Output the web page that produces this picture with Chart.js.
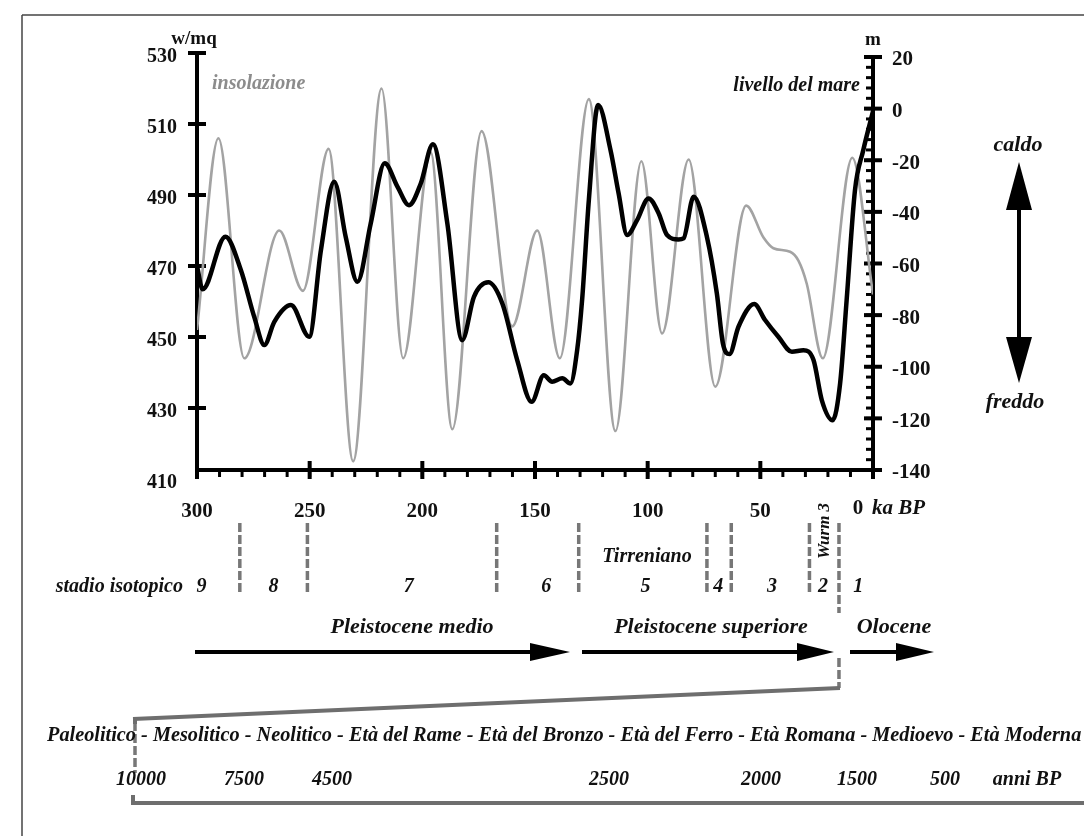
<!DOCTYPE html>
<html><head><meta charset="utf-8">
<script src="https://cdn.jsdelivr.net/npm/chart.js@4.4.1/dist/chart.umd.min.js"></script>
<style>html,body{margin:0;padding:0;background:#fff;} #wrap{width:1084px;height:836px;}</style>
</head><body><div id="wrap"><canvas id="c" width="1084" height="836"></canvas></div>
<script>
// ---------------- DATA ----------------
// insolation (W/m²), left axis, ka BP from 300 to 0
const insolKa   = [300, 290.5, 279, 263.5, 253, 241.6, 230.7, 218.1, 208.5, 196.3, 186.7, 173.7, 160.1, 149, 139, 126.1, 114.3, 102.8, 93.6, 81.8, 70, 56.3, 48.6, 44.2, 36.8, 33.1, 29.4, 22.3, 9.2, 0];
const insolWm2  = [452, 506, 444, 480, 463, 503, 415, 520, 444, 502, 424, 508, 453, 480, 444, 517, 423.5, 499.5, 451, 500, 436, 487, 478, 475, 474, 471.5, 465, 444, 500.5, 462];
// sea level (m), right axis
const seaKa     = [300, 297.5, 287.4, 280.5, 274.6, 270.1, 265.7, 258.3, 250.2, 245, 239.1, 234, 228.8, 222.9, 216.7, 211, 205.9, 200.7, 195.3, 188.9, 182.3, 177.1, 170.7, 164.5, 157.9, 151.5, 146.1, 142.4, 137.9, 134.3, 131.3, 129.1, 126.1, 122, 116.5, 112.9, 109.1, 104.7, 99.6, 95.1, 91.4, 86.3, 84.1, 79.6, 73.7, 69.3, 66.6, 63.7, 59.7, 52.7, 47.9, 42, 36, 30.9, 26.4, 22.7, 17.9, 14.6, 11.7, 8, 4.3, 0];
const seaLevelM = [-61, -70, -49.6, -62.6, -80.7, -91.6, -82.6, -76.1, -88.4, -54.8, -28.3, -49.7, -67.1, -44.5, -21.2, -30.3, -37.4, -29, -13.8, -44.5, -89.7, -72.9, -67.3, -75.5, -97.4, -113.6, -103.3, -105.8, -104.5, -106.5, -93.6, -74.2, -35.4, 1.4, -16, -32.8, -49, -43.2, -34.8, -40.6, -49, -50.7, -50.3, -34.1, -49.7, -71.6, -91, -95.1, -84.5, -75.7, -81.9, -88.4, -94.2, -93.6, -97.4, -113, -120.7, -106.5, -74.2, -31.6, -16, -1];
// tick labels
const kaTicks    = [300, 250, 200, 150, 100, 50, 0];
const insolTicks = [410, 430, 450, 470, 490, 510, 530];
const seaTicks   = [-140, -120, -100, -80, -60, -40, -20, 0, 20];
// isotope stages
const stageBoundsKa = [281, 251, 167, 130.6, 73.7, 62.9, 28.2, 15.1];
const stageLabels   = ['9', '8', '7', '6', '5', '4', '3', '2', '1'];
const stageLabelKa  = [298, 266, 206, 145, 101, 68.7, 44.8, 22.2, 6.6];
const epochLabels   = ['Pleistocene medio', 'Pleistocene superiore', 'Olocene'];
const culturalPeriods = 'Paleolitico - Mesolitico - Neolitico - Età del Rame - Età del Bronzo - Età del Ferro - Età Romana - Medioevo - Età Moderna';
const yearsBP = ['10000', '7500', '4500', '2500', '2000', '1500', '500', 'anni BP'];

// ---------------- LAYOUT ----------------
const SERIF = '"Liberation Serif", "Times New Roman", serif';
const yearsX = [141, 244, 332, 609, 761, 857, 945, 1027];
const epochTextX = [412, 711, 894];
const epochArrows = [[195, 570, 40], [582, 834, 37], [850, 934, 38]];

function pts(xs, ys){ return xs.map((k,i)=>({x:k, y:ys[i]})); }

function line(ctx,x1,y1,x2,y2){ ctx.beginPath(); ctx.moveTo(x1,y1); ctx.lineTo(x2,y2); ctx.stroke(); }
function txt(ctx,s,x,y,font,align,color){ ctx.font=font; ctx.textAlign=align||'center'; ctx.textBaseline='middle'; ctx.fillStyle=color||'#111'; ctx.fillText(s,x,y); }
function hArrow(ctx,x1,x2,y,head,hh){
  ctx.lineWidth=4; ctx.strokeStyle='#000'; line(ctx,x1,y,x2-head+2,y);
  ctx.fillStyle='#000'; ctx.beginPath(); ctx.moveTo(x2,y); ctx.lineTo(x2-head,y-hh); ctx.lineTo(x2-head,y+hh); ctx.closePath(); ctx.fill();
}

const deco = {
  id:'deco',
  beforeDraw(chart){ const c=chart.ctx; c.save(); c.fillStyle='#fff'; c.fillRect(0,0,chart.width,chart.height); c.restore(); },
  beforeDatasetsDraw(chart){
    const {ctx, scales:{x,y,y2}} = chart;
    const xl = x.getPixelForValue(300), xr = x.getPixelForValue(0);
    const yb = y2.getPixelForValue(-140);
    ctx.save();
    ctx.strokeStyle='#000'; ctx.lineCap='butt';
    ctx.lineWidth=4;
    line(ctx, xl, y.getPixelForValue(530)-2, xl, yb+2);
    line(ctx, xr, y2.getPixelForValue(20)-2, xr, yb+2);
    line(ctx, xl-2, yb, xr+2, yb);
    insolTicks.forEach(v=>{ const p=y.getPixelForValue(v); if(p<yb-3){ ctx.lineWidth=4; line(ctx,xl-9,p,xl+9,p);} });
    for(let v=-140; v<=20; v+=4){ const p=y2.getPixelForValue(v); ctx.lineWidth=3; line(ctx,xr-7,p,xr,p); }
    seaTicks.forEach(v=>{ const p=y2.getPixelForValue(v); ctx.lineWidth=4; line(ctx,xr-9,p,xr+9,p); });
    for(let v=0; v<=300; v+=10){ const p=x.getPixelForValue(v); ctx.lineWidth=3; line(ctx,p,yb,p,yb+7); }
    kaTicks.forEach(v=>{ const p=x.getPixelForValue(v); ctx.lineWidth=4; line(ctx,p,yb-9,p,yb+9); });
    ctx.restore();
  },
  afterDraw(chart){
    const {ctx, scales:{x,y,y2}} = chart;
    ctx.save();
    ctx.strokeStyle='#444'; ctx.lineWidth=1.5;
    line(ctx,22,15,1084,15); line(ctx,22,15,22,836);
    const BI = 'bold italic 20px '+SERIF;
    txt(ctx,'w/mq',194,39,'bold 19px '+SERIF);
    txt(ctx,'m',873,40,'bold 19px '+SERIF);
    txt(ctx,'insolazione',212,84,BI,'left','#8c8c8c');
    txt(ctx,'livello del mare',860,86,BI,'right','#111');
    const lblY = 509;
    txt(ctx,'0',858,lblY,'bold 21px '+SERIF);
    txt(ctx,'ka BP',872,lblY,'bold italic 21px '+SERIF,'left');
    const ax=1019;
    ctx.strokeStyle='#000'; ctx.lineWidth=4; line(ctx,ax,200,ax,345);
    ctx.fillStyle='#000';
    ctx.beginPath(); ctx.moveTo(ax,162); ctx.lineTo(ax-13,210); ctx.lineTo(ax+13,210); ctx.closePath(); ctx.fill();
    ctx.beginPath(); ctx.moveTo(ax,383); ctx.lineTo(ax-13,337); ctx.lineTo(ax+13,337); ctx.closePath(); ctx.fill();
    txt(ctx,'caldo',1018,145,'bold italic 22px '+SERIF);
    txt(ctx,'freddo',1015,402,'bold italic 22px '+SERIF);
    ctx.strokeStyle='#777'; ctx.lineWidth=3.5; ctx.setLineDash([9,3]);
    stageBoundsKa.forEach((k,i)=>{ const p=x.getPixelForValue(k); line(ctx,p,523,p,i===stageBoundsKa.length-1?613:595); });
    const wx = x.getPixelForValue(stageBoundsKa[stageBoundsKa.length-1]);
    line(ctx,wx,658,wx,688);
    line(ctx,135,722,135,773);
    ctx.setLineDash([]);
    ctx.lineWidth=4; ctx.strokeStyle='#6e6e6e';
    line(ctx,wx+1,688,133,719);
    line(ctx,135,717,135,724);
    line(ctx,133,795,133,805);
    line(ctx,133,803,1084,803);
    txt(ctx,'stadio isotopico',183,587,BI,'right');
    stageLabels.forEach((s,i)=>txt(ctx,s,x.getPixelForValue(stageLabelKa[i]),587,BI));
    txt(ctx,'Tirreniano',647,557,BI);
    ctx.save(); ctx.translate(825,531); ctx.rotate(-Math.PI/2); txt(ctx,'Wurm 3',0,0,'bold italic 17px '+SERIF); ctx.restore();
    epochLabels.forEach((s,i)=>txt(ctx,s,epochTextX[i],627,'bold italic 22px '+SERIF));
    epochArrows.forEach(a=>hArrow(ctx,a[0],a[1],652,a[2],9));
    let fs=17; ctx.font='bold italic '+fs+'px '+SERIF;
    const w=ctx.measureText(culturalPeriods).width; fs = fs*1035/w;
    txt(ctx,culturalPeriods,47,736,'bold italic '+fs.toFixed(2)+'px '+SERIF,'left');
    yearsBP.forEach((s,i)=>txt(ctx,s,yearsX[i],780,'bold italic 20px '+SERIF));
    ctx.restore();
  }
};

new Chart(document.getElementById('c'), {
  type:'line',
  data:{datasets:[
    {label:'livello del mare', data:pts(seaKa,seaLevelM), yAxisID:'y2', borderColor:'#000', borderWidth:4.5, pointRadius:0, cubicInterpolationMode:'monotone', borderJoinStyle:'round', borderCapStyle:'round', order:0},
    {label:'insolazione', data:pts(insolKa,insolWm2), yAxisID:'y', borderColor:'#a3a3a3', borderWidth:2.6, pointRadius:0, cubicInterpolationMode:'monotone', borderJoinStyle:'round', order:1}
  ]},
  options:{
    responsive:false, animation:false, events:[],
    layout:{padding:{top:53,left:0,right:0,bottom:0}},
    plugins:{legend:{display:false}, tooltip:{enabled:false}},
    scales:{
      x:{type:'linear', min:0, max:300, reverse:true, position:'bottom',
        afterBuildTicks:s=>{s.ticks=kaTicks.map(v=>({value:v}));},
        afterFit:s=>{s.height=357;},
        grid:{display:false, drawTicks:false}, border:{display:false},
        ticks:{font:{family:SERIF,size:21,weight:'bold'}, color:'#111', padding:20, autoSkip:false, maxRotation:0, callback:v=>v===0?'':String(v)}},
      y:{type:'linear', position:'left', min:410, max:530,
        afterBuildTicks:s=>{s.ticks=insolTicks.map(v=>({value:v}));},
        afterFit:s=>{s.width=197;},
        grid:{display:false, drawTicks:false}, border:{display:false},
        ticks:{font:{family:SERIF,size:20,weight:'bold'}, color:'#111', padding:20, labelOffset:4, callback:v=>String(v)}},
      y2:{type:'linear', position:'right', min:-143.49, max:21.55,
        afterBuildTicks:s=>{s.ticks=seaTicks.map(v=>({value:v}));},
        afterFit:s=>{s.width=211;},
        grid:{display:false, drawTicks:false}, border:{display:false},
        ticks:{font:{family:SERIF,size:21,weight:'bold'}, color:'#111', padding:19, labelOffset:3, callback:v=>String(v)}}
    }
  },
  plugins:[deco]
});
</script>
</body></html>
